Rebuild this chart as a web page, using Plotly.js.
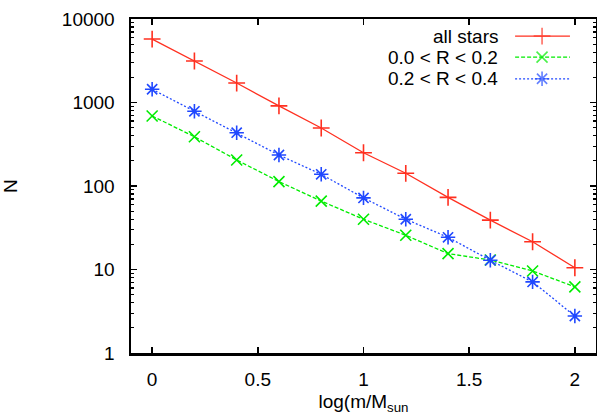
<!DOCTYPE html>
<html><head><meta charset="utf-8">
<script src="https://cdn.plot.ly/plotly-3.0.1.min.js"></script>
<style>html,body{margin:0;padding:0;background:#fff}#chart{width:597px;height:418px}</style>
</head><body><div id="chart"></div>
<script>
const logMass = [0, 0.2, 0.4, 0.6, 0.8, 1.0, 1.2, 1.4, 1.6, 1.8, 2.0];
const allStars = [5750, 3140, 1710, 910, 495, 250, 142, 73, 39, 21.5, 10.5];
const r00to02 = [690, 389, 205, 113, 66, 40, 25.7, 15.5, 13, 9.6, 6.2];
const r02to04 = [1440, 784, 435, 235, 138, 72, 40, 24.3, 12.9, 7.1, 2.77];
const seriesNames = ['all stars', '0.0 < R < 0.2', '0.2 < R < 0.4'];
const yTicks = [1, 10, 100, 1000, 10000];
const xTicks = [0, 0.5, 1, 1.5, 2];

const styles = [
  {color: '#ff3020', dash: 'solid', symbol: 'cross-thin', size: 12},
  {color: '#00ec00', dash: '4px,2px', symbol: 'x-thin', size: 11},
  {color: '#2048ff', dash: '2px,2px', symbol: 'asterisk-open', size: 12}
];
const seriesData = [allStars, r00to02, r02to04];

const traces = seriesData.map((ys, i) => ({
  x: logMass, y: ys, type: 'scatter', mode: 'lines+markers', name: seriesNames[i],
  line: {color: styles[i].color, width: 1.3, dash: styles[i].dash},
  marker: {symbol: styles[i].symbol, size: styles[i].size, color: styles[i].color,
           line: {color: styles[i].color, width: 1.6}},
  showlegend: false, cliponaxis: false
}));

// legend key samples (layout positions on a hidden 0..1 overlay axis)
const keyRows = [0.949, 0.886, 0.821];
const keyX = [0.826, 0.884, 0.944];
const annotations = [];
seriesNames.forEach((n, i) => {
  traces.push({
    x: keyX, y: [keyRows[i], keyRows[i], keyRows[i]], xaxis: 'x2', yaxis: 'y2',
    type: 'scatter', mode: 'lines+markers', showlegend: false, hoverinfo: 'skip',
    line: {color: styles[i].color, width: 1.3, dash: styles[i].dash},
    marker: {symbol: styles[i].symbol, size: [0, styles[i].size, 0], color: styles[i].color,
             line: {color: styles[i].color, width: 1.6}}
  });
  annotations.push({
    xref: 'paper', yref: 'paper', x: 0.794, y: keyRows[i], xanchor: 'right', yanchor: 'middle',
    text: n, showarrow: false, font: {family: 'Liberation Sans, Arial, sans-serif', size: 19, color: '#000'}
  });
});

const font = {family: 'Liberation Sans, Arial, sans-serif', size: 19, color: '#000'};
const layout = {
  width: 597, height: 418,
  margin: {l: 131, r: 1, t: 19, b: 65},
  paper_bgcolor: '#fff', plot_bgcolor: '#fff',
  font: font,
  showlegend: false,
  xaxis: {
    range: [-0.1, 2.1], tickvals: xTicks, ticktext: xTicks.map(String),
    ticks: 'inside', ticklen: 6, tickwidth: 1.5, tickcolor: '#000',
    showline: true, linecolor: '#000', linewidth: 2.5, mirror: 'allticks',
    showgrid: false, zeroline: false, tickfont: font, ticklabelstandoff: 8,
    title: {text: 'log(m/M<sub>sun</sub>', font: font, standoff: 6}
  },
  yaxis: {
    type: 'log', range: [0, 4], tickvals: yTicks, ticktext: yTicks.map(String),
    ticks: 'inside', ticklen: 6, tickwidth: 1.5, tickcolor: '#000',
    minor: {ticks: 'inside', ticklen: 3, tickwidth: 1.2, tickcolor: '#000', dtick: 'D1', showgrid: false},
    showline: true, linecolor: '#000', linewidth: 2.5, mirror: 'allticks',
    showgrid: false, zeroline: false, tickfont: font, ticklabelstandoff: 10,
    title: {text: 'N', font: font, standoff: 40}
  },
  xaxis2: {overlaying: 'x', range: [0, 1], visible: false, fixedrange: true},
  yaxis2: {overlaying: 'y', range: [0, 1], visible: false, fixedrange: true},
  annotations: annotations
};
Plotly.newPlot('chart', traces, layout, {staticPlot: true});
</script></body></html>
